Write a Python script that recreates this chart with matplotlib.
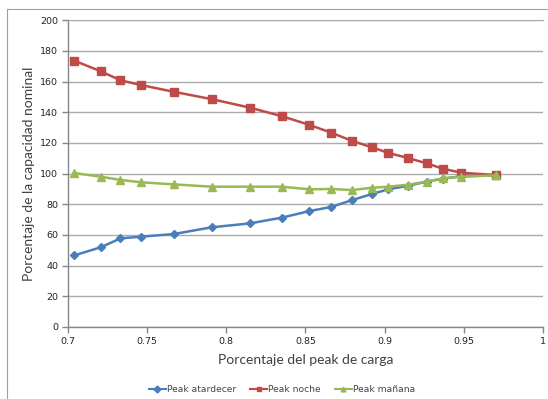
import matplotlib
matplotlib.use("Agg")
import matplotlib.pyplot as plt
from matplotlib.lines import Line2D

# Fraction of peak load (x) for each operating point
peak_fraction = [0.704, 0.7208, 0.7332, 0.746, 0.7668, 0.7907, 0.8151, 0.835,
                 0.8525, 0.8663, 0.8796, 0.8919, 0.9024, 0.9148, 0.9266,
                 0.9368, 0.9484, 0.9704]

# Percentage of nominal capacity for each peak
peak_atardecer = [46.7, 52.0, 57.8, 58.9, 60.6, 65.0, 67.6, 71.3, 75.6,
                  78.3, 82.8, 86.7, 89.8, 92.1, 94.8, 96.7, 98.3, 98.9]
peak_noche = [173.7, 166.7, 160.9, 157.8, 153.4, 148.6, 143.0, 137.5, 131.8,
              126.7, 121.3, 117.2, 113.5, 110.2, 106.7, 103.2, 100.6, 99.1]
peak_manana = [100.4, 98.0, 95.9, 94.4, 93.0, 91.5, 91.5, 91.5, 89.8,
               90.0, 89.3, 90.8, 91.5, 92.8, 94.8, 97.0, 98.0, 98.9]

series_labels = ["Peak atardecer", "Peak noche", "Peak mañana"]
x_ticks = [0.7, 0.75, 0.8, 0.85, 0.9, 0.95, 1.0]
x_tick_labels = ["0.7", "0.75", "0.8", "0.85", "0.9", "0.95", "1"]
y_ticks = list(range(0, 201, 20))

W, H = 548, 399
fig = plt.figure(figsize=(W / 100, H / 100), dpi=100)
fig.patch.set_facecolor("white")

left, right, top, bottom = 67.9, 543.0, 20.3, 327.0
ax = fig.add_axes([left / W, 1 - bottom / H, (right - left) / W, (bottom - top) / H])

colors = ["#4A7EBB", "#BE4B48", "#98B954"]
markers = ["D", "s", "^"]
msizes = [4.2, 5.5, 6.0]
for vals, c, m, ms, lab in zip([peak_atardecer, peak_noche, peak_manana],
                               colors, markers, msizes, series_labels):
    ax.plot(peak_fraction, vals, color=c, marker=m, markersize=ms, lw=1.8,
            markeredgecolor=c, label=lab, zorder=3)

ax.set_xlim(0.7, 1.0)
ax.set_ylim(0, 200)
ax.set_xticks(x_ticks)
ax.set_xticklabels(x_tick_labels)
ax.set_yticks(y_ticks)

grid_c = "#ABABAB"
ax.grid(axis="y", color=grid_c, lw=1.0)
ax.set_axisbelow(True)
ax.spines["right"].set_visible(False)
ax.spines["top"].set_color(grid_c)
for s in ["left", "bottom"]:
    ax.spines[s].set_color("#868686")
    ax.spines[s].set_linewidth(1.0)
ax.tick_params(axis="both", direction="out", length=4, width=1,
               color="#868686", labelsize=6.8, labelcolor="#222222", pad=3)

for lbl in ax.get_xticklabels() + ax.get_yticklabels():
    lbl.set_family("DejaVu Sans")

label_font = {"family": "Lato", "weight": "normal", "size": 10, "color": "#404040"}
ax.set_xlabel("Porcentaje del peak de carga", labelpad=6, **label_font)
ax.set_ylabel("Porcentaje de la capacidad nominal", labelpad=4, **label_font)

leg = fig.legend(loc="center", bbox_to_anchor=(282 / W, 1 - 390 / H), ncol=3,
                 frameon=False, handlelength=1.8, handletextpad=0.1,
                 columnspacing=1.6, prop={"family": "DejaVu Sans", "size": 6.6})
for t in leg.get_texts():
    t.set_color("#444444")
for h in leg.legend_handles:
    h.set_linewidth(1.5)
    h.set_markersize(3.5)

# chart area frame (left and top edges)
fig.add_artist(Line2D([6.5 / W, 6.5 / W], [0, 1 - 9.3 / H], transform=fig.transFigure,
                      color="#A0A0A0", lw=0.8))
fig.add_artist(Line2D([6.5 / W, 1], [1 - 9.3 / H, 1 - 9.3 / H], transform=fig.transFigure,
                      color="#A0A0A0", lw=0.8))

fig.savefig("out.png", dpi=100, facecolor="white")
